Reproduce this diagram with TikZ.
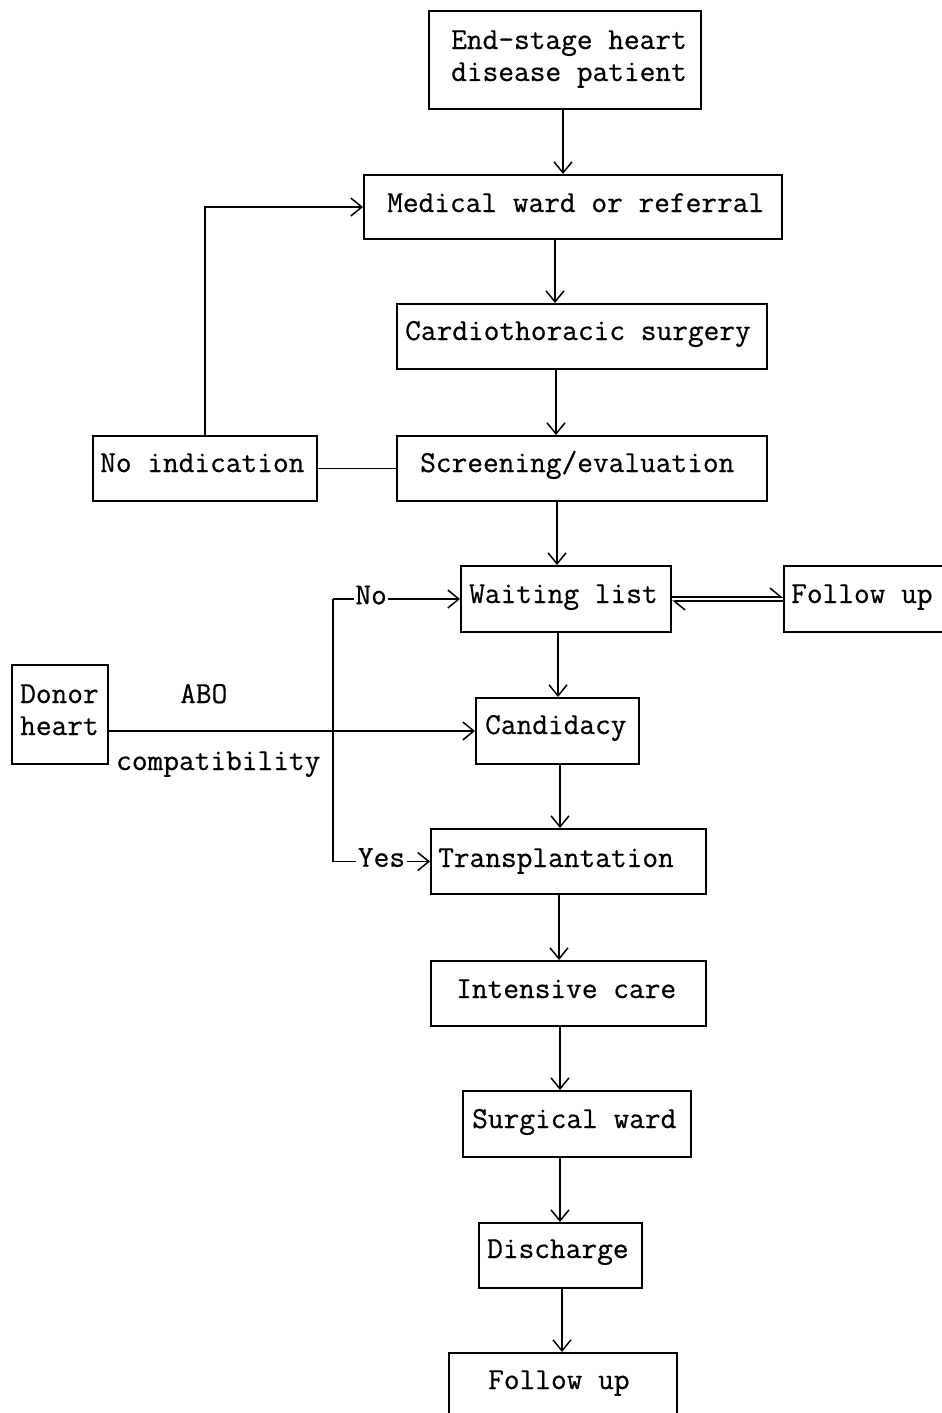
\documentclass[tikz,border=0pt]{standalone}
\usepackage{fontspec}
\newfontfamily\twfont{Latin Modern Mono}[FakeBold=0.6]
\usetikzlibrary{arrows.meta,calc}
\begin{document}
\begin{tikzpicture}[x=1pt,y=1pt,
  box/.style={draw, line width=2pt, inner sep=0pt, anchor=north west},
  txt/.style={font=\twfont\fontsize{30.5}{27}\selectfont, inner sep=0pt, anchor=base west},
  conn/.style={line width=1.7pt},
  arr/.style={conn, -{Straight Barb[length=11pt,width=18pt,line width=1.5pt]}},
  harp/.style={conn, -{Straight Barb[harpoon,length=11pt,width=18pt,line width=1.5pt]}},
  tag/.style={font=\twfont\fontsize{30.5}{27}\selectfont, fill=white, inner xsep=1.5pt, inner ysep=0pt, yshift=4pt}
]
\useasboundingbox (0,0) rectangle (942,-1413);

% boxes
\node[box, minimum width=272pt, minimum height=98pt] (ES) at (428,-10) {};
\node[box, minimum width=418pt, minimum height=64pt] (MW) at (363,-174) {};
\node[box, minimum width=370pt, minimum height=65pt] (CS) at (396,-303) {};
\node[box, minimum width=370pt, minimum height=65pt] (SE) at (396,-435) {};
\node[box, minimum width=224pt, minimum height=65pt] (NI) at (92,-435) {};
\node[box, minimum width=210pt, minimum height=66pt] (WL) at (460,-565) {};
\node[box, minimum width=175pt, minimum height=66pt] (FU1) at (783,-565) {};
\node[box, minimum width=163pt, minimum height=66pt] (CA) at (475,-697) {};
\node[box, minimum width=96pt, minimum height=99pt] (DH) at (11,-664) {};
\node[box, minimum width=275pt, minimum height=65pt] (TR) at (430,-828) {};
\node[box, minimum width=275pt, minimum height=65pt] (IC) at (430,-960) {};
\node[box, minimum width=228pt, minimum height=66pt] (SW) at (462,-1090) {};
\node[box, minimum width=163pt, minimum height=65pt] (DC) at (478,-1222) {};
\node[box, minimum width=228pt, minimum height=80pt] (FU2) at (448,-1352) {};

% texts
\node[txt] (tES1) at (451,-49) {End-stage heart};
\node[txt] (tES2) at (451,-81) {disease patient};
\node[txt] (tMW) at (387,-212) {Medical ward or referral};
\node[txt] (tCS) at (405,-340) {Cardiothoracic surgery};
\node[txt] (tSE) at (420,-472) {Screening/evaluation};
\node[txt] (tNI) at (100,-472) {No indication};
\node[txt] (tWL) at (469,-603) {Waiting list};
\node[txt] (tFU1) at (791,-603) {Follow up};
\node[txt] (tCA) at (485,-734) {Candidacy};
\node[txt] (tDH1) at (20,-703) {Donor};
\node[txt] (tDH2) at (20,-735) {heart};
\node[txt] (tABO) at (180,-703) {ABO};
\node[txt] (tCOMP) at (116,-770) {compatibility};
\node[txt] (tTR) at (438,-867) {Transplantation};
\node[txt] (tIC) at (456,-998) {Intensive care};
\node[txt] (tSW) at (472,-1128) {Surgical ward};
\node[txt] (tDC) at (487,-1258) {Discharge};
\node[txt] (tFU2) at (488,-1389) {Follow up};

% main chain
\draw[arr] (ES.south -| 563,0) -- (MW.north -| 563,0);
\draw[arr] (MW.south -| 555,0) -- (CS.north -| 555,0);
\draw[arr] (CS.south -| 556,0) -- (SE.north -| 556,0);
\draw[arr] (SE.south -| 557,0) -- (WL.north -| 557,0);
\draw[arr] (WL.south -| 558,0) -- (CA.north -| 558,0);
\draw[arr] (CA.south -| 560,0) -- (TR.north -| 560,0);
\draw[arr] (TR.south -| 559,0) -- (IC.north -| 559,0);
\draw[arr] (IC.south -| 560,0) -- (SW.north -| 560,0);
\draw[arr] (SW.south -| 560,0) -- (DC.north -| 560,0);
\draw[arr] (DC.south -| 562,0) -- (FU2.north -| 562,0);

% no indication loop
\draw[conn] (NI.east) -- (SE.west);
\draw[arr] (NI.north) |- (MW.west);

% donor heart
\draw[arr] (DH.east |- CA.west) -- (CA.west);
\coordinate (jn) at (333,-730);
\draw[conn] (jn |- WL.west) -- (jn |- TR.west);
\draw[arr] (jn |- WL.west) -- node[tag, pos=0.3] (tNo) {No} (WL.west);
\draw[arr] (jn |- TR.west) -- node[tag, pos=0.5] (tYes) {Yes} (TR.west);

% waiting list <-> follow up
\draw[harp] ([yshift=2pt]WL.east) -- ([yshift=2pt]FU1.west);
\draw[harp] ([yshift=-2pt]FU1.west) -- ([yshift=-2pt]WL.east);
\end{tikzpicture}
\end{document}
